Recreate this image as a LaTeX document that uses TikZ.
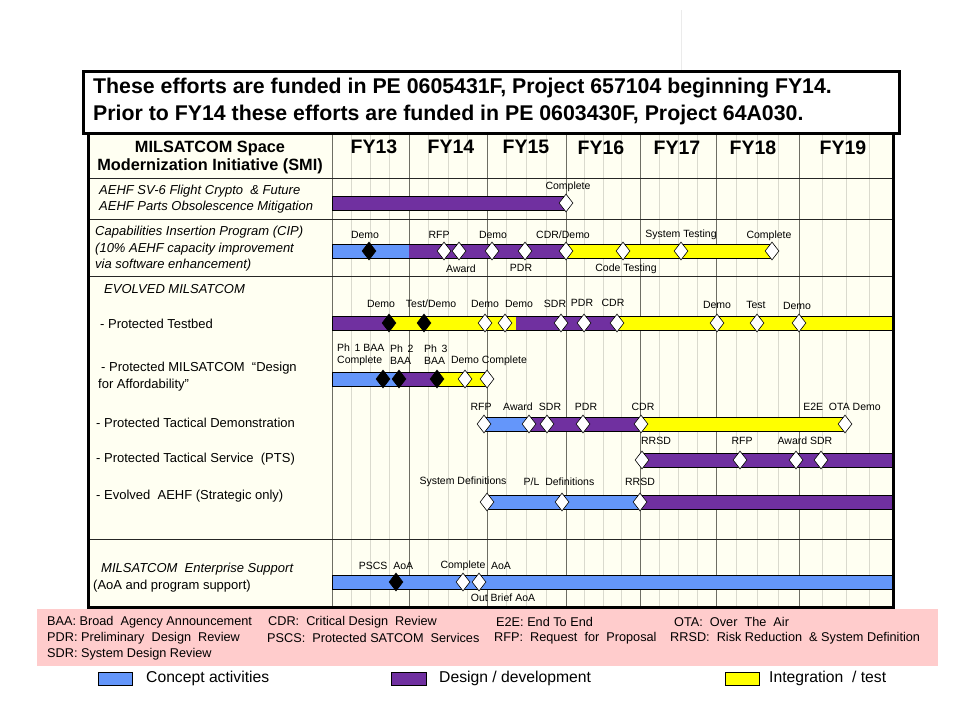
\documentclass[tikz,border=0pt]{standalone}
\usepackage{fontspec}
\setmainfont{Liberation Sans}
\usetikzlibrary{shapes.geometric}
\definecolor{cblue}{RGB}{100,150,250}
\definecolor{cpurple}{RGB}{112,48,160}
\definecolor{cyellow}{RGB}{255,255,0}
\definecolor{cream}{RGB}{255,255,242}
\definecolor{cpink}{RGB}{255,204,204}
\definecolor{gridq}{RGB}{218,218,206}
\definecolor{gridy}{RGB}{110,110,100}
\newcommand{\barseg}[4]{\fill[#4] (#2,#1-7) rectangle (#3,#1+7);}
\newcommand{\barbox}[3]{\draw[black, line width=0.8pt] (#2,#1-7) rectangle (#3,#1+7);}
\begin{document}
\begin{tikzpicture}[x=1pt,y=-1pt,
  msw/.style={diamond, draw=black, fill=white, line width=0.6pt, minimum width=14pt, minimum height=18pt, inner sep=0pt},
  msb/.style={msw, fill=black},
  lab/.style={font=\fontsize{10.5}{12}\selectfont, inner sep=0pt},
  rowlab/.style={font=\fontsize{13}{15}\selectfont, anchor=west, inner sep=0pt},
  rowlabit/.style={rowlab, font=\itshape\fontsize{13}{15}\selectfont},
  fylab/.style={font=\bfseries\fontsize{19.5}{22}\selectfont, inner sep=0pt},
  hdr/.style={anchor=west, font=\bfseries\fontsize{21.3}{24}\selectfont, inner sep=0pt},
  leg/.style={anchor=west, font=\fontsize{12.7}{14}\selectfont, inner sep=0pt},
  legbig/.style={anchor=west, font=\fontsize{15.7}{18}\selectfont, inner sep=0pt},
  swatch/.style={draw=black, line width=0.6pt}]
\useasboundingbox (0,0) rectangle (960,720);
\fill[white] (0,0) rectangle (960,720);
\draw[black!8] (681,10) -- (681,70);

% header box
\draw[line width=3pt, fill=white] (83,71) rectangle (899,133);
\node[hdr] (h1) at (93,88) {These efforts are funded in PE 0605431F, Project 657104 beginning FY14.};
\node[hdr] (h2) at (93,115) {Prior to FY14 these efforts are funded in PE 0603430F, Project 64A030.};

% table background and grid
\fill[cream] (88,135) rectangle (893,607);
\foreach \a/\b in {332/409,409/487,487/566,566/640,640/716,716/799,799/893}{
  \foreach \k in {1,2,3}
    \draw[gridq, line width=0.6pt] ({\a+\k*(\b-\a)/4},135) -- ({\a+\k*(\b-\a)/4},607);
}
\foreach \x in {332,409,487,566,640,716,799}
  \draw[gridy, line width=0.8pt] (\x,135) -- (\x,607);
\foreach \y in {178,219,276,539}
  \draw[black!85, line width=1pt] (88,\y) -- (893,\y);
\draw[line width=3pt] (88,134) -- (88,607) -- (893,607) -- (893,134);

% column headers
\node[font=\bfseries\fontsize{16.3}{18}\selectfont, align=center, inner sep=0pt] (smi) at (210,157) {MILSATCOM Space\\Modernization Initiative (SMI)};
\node[fylab] (fy13) at (374,147) {FY13};
\node[fylab] (fy14) at (451,147) {FY14};
\node[fylab] (fy15) at (526,147) {FY15};
\node[fylab] (fy16) at (601,148) {FY16};
\node[fylab] (fy17) at (677,148) {FY17};
\node[fylab] (fy18) at (753,148) {FY18};
\node[fylab] (fy19) at (843,148) {FY19};

% row labels
\node[rowlabit] (l1a) at (99,191) {AEHF SV-6 Flight Crypto \ \& Future};
\node[rowlabit] (l1b) at (99,207) {AEHF Parts Obsolescence Mitigation};
\node[rowlabit] (l2a) at (95,232) {Capabilities Insertion Program (CIP)};
\node[rowlabit] (l2b) at (95,249) {(10\% AEHF capacity improvement};
\node[rowlabit] (l2c) at (95,265) {via software enhancement)};
\node[rowlabit] (l3) at (104,289) {EVOLVED MILSATCOM};
\node[rowlab] (l4) at (100,324) {- Protected Testbed};
\node[rowlab] (l5a) at (101,368) {- Protected MILSATCOM \ “Design};
\node[rowlab] (l5b) at (98,385) {for Affordability”};
\node[rowlab] (l6) at (96,423) {- Protected Tactical Demonstration};
\node[rowlab] (l7) at (96,459) {- Protected Tactical Service \ (PTS)};
\node[rowlab] (l8) at (96,496) {- Evolved \ AEHF (Strategic only)};
\node[rowlabit] (l9a) at (101,569) {MILSATCOM \ Enterprise Support};
\node[rowlab] (l9b) at (93,586) {(AoA and program support)};

% ---- bars ----
% row 1
\barseg{203}{332}{566}{cpurple}
\barbox{203}{332}{566}
% row 2
\barseg{251}{332}{409}{cblue}
\barseg{251}{409}{566}{cpurple}
\barseg{251}{566}{771}{cyellow}
\barbox{251}{332}{771}
% row 3
\barseg{323}{332}{389}{cpurple}
\barseg{323}{389}{516}{cyellow}
\barseg{323}{516}{616}{cpurple}
\barseg{323}{616}{893}{cyellow}
\barbox{323}{332}{893}
% row 4
\barseg{379}{332}{398}{cblue}
\barseg{379}{398}{437}{cpurple}
\barseg{379}{437}{487}{cyellow}
\barbox{379}{332}{487}
% row 5
\barseg{424}{484}{530}{cblue}
\barseg{424}{530}{641}{cpurple}
\barseg{424}{641}{845}{cyellow}
\barbox{424}{484}{845}
% row 6
\barseg{460}{642}{893}{cpurple}
\barbox{460}{642}{893}
% row 7
\barseg{502}{487}{640}{cblue}
\barseg{502}{640}{893}{cpurple}
\barbox{502}{487}{893}
% row 8
\barseg{582}{332}{893}{cblue}
\barbox{582}{332}{893}
\draw[line width=3pt] (893,300) -- (893,607);

% ---- milestones ----
\node[msw] (r1w1) at (566,203) {};
\node[msb] (r2b1) at (369,251) {};
\foreach \x [count=\i] in {444,459,492,525,566,623,681,772}
  \node[msw] (r2w\i) at (\x,251) {};
\node[msb] (r3b1) at (389,323) {};
\node[msb] (r3b2) at (424,323) {};
\foreach \x [count=\i] in {485,505,561,584,617,717,757,799}
  \node[msw] (r3w\i) at (\x,323) {};
\node[msb] (r4b1) at (383,379) {};
\node[msb] (r4b2) at (399,379) {};
\node[msb] (r4b3) at (437,379) {};
\node[msw] (r4w1) at (465,379) {};
\node[msw] (r4w2) at (487,379) {};
\foreach \x [count=\i] in {484,529,547,583,641,845}
  \node[msw] (r5w\i) at (\x,424) {};
\foreach \x [count=\i] in {642,740,796,821}
  \node[msw] (r6w\i) at (\x,460) {};
\foreach \x [count=\i] in {487,562,640}
  \node[msw] (r7w\i) at (\x,502) {};
\node[msb] (r8b1) at (396,582) {};
\node[msw] (r8w1) at (463,582) {};
\node[msw] (r8w2) at (479,582) {};

% ---- milestone labels ----
\node[lab] (t1a) at (568,187) {Complete};
% row 2
\node[lab] (t2a) at (365,235) {Demo};
\node[lab] (t2b) at (439,235) {RFP};
\node[lab] (t2c) at (461,269) {Award};
\node[lab] (t2d) at (493,235) {Demo};
\node[lab] (t2e) at (521,268) {PDR};
\node[lab] (t2f) at (563,235) {CDR/Demo};
\node[lab] (t2g) at (626,269) {Code Testing};
\node[lab] (t2h) at (681,235) {System Testing};
\node[lab] (t2i) at (769,236) {Complete};
% row 3
\node[lab] (t3a) at (381,304) {Demo};
\node[lab] (t3b) at (431,304) {Test/Demo};
\node[lab] (t3c) at (485,304) {Demo};
\node[lab] (t3d) at (519,304) {Demo};
\node[lab] (t3e) at (555,304) {SDR};
\node[lab] (t3f) at (582,303) {PDR};
\node[lab] (t3g) at (613,303) {CDR};
\node[lab] (t3h) at (717,305) {Demo};
\node[lab] (t3i) at (756,305) {Test};
\node[lab] (t3j) at (797,306) {Demo};
% row 4
\node[lab, anchor=west, align=left] (t4a) at (337,355) {Ph \,1 BAA\\Complete};
\node[lab, anchor=west, align=left] (t4b) at (390,355) {Ph \,2\\BAA};
\node[lab, anchor=west, align=left] (t4c) at (424,355) {Ph \,3\\BAA};
\node[lab] (t4d) at (489,361) {Demo Complete};
% row 5
\node[lab] (t5a) at (481,407) {RFP};
\node[lab] (t5b) at (518,407) {Award};
\node[lab] (t5c) at (550,407) {SDR};
\node[lab] (t5d) at (586,407) {PDR};
\node[lab] (t5e) at (643,407) {CDR};
\node[lab] (t5f) at (842,407) {E2E \ OTA Demo};
% row 6
\node[lab] (t6a) at (656,441) {RRSD};
\node[lab] (t6b) at (742,441) {RFP};
\node[lab] (t6c) at (805,441) {Award SDR};
% row 7
\node[lab] (t7a) at (463,482) {System Definitions};
\node[lab] (t7b) at (559,482) {P/L \ Definitions};
\node[lab] (t7c) at (640,482) {RRSD};
% row 8
\node[lab] (t8a) at (386,566) {PSCS \ AoA};
\node[lab] (t8b) at (463,566) {Complete};
\node[lab] (t8c) at (501,566) {AoA};
\node[lab] (t8d) at (503,598) {Out Brief AoA};

% ---- abbreviations ----
\fill[cpink] (37,609) rectangle (938,666);
\node[leg] (a1) at (47,622) {BAA: Broad \ Agency Announcement};
\node[leg] (a2) at (268,622) {CDR: \ Critical Design \ Review};
\node[leg] (a3) at (496,622) {E2E: End To End};
\node[leg] (a4) at (674,622) {OTA: \ Over \ The \ Air};
\node[leg] (a5) at (47,638) {PDR: Preliminary \ Design \ Review};
\node[leg] (a6) at (267,638) {PSCS: \ Protected SATCOM \ Services};
\node[leg] (a7) at (494,638) {RFP: \ Request \ for \ Proposal};
\node[leg] (a8) at (670,638) {RRSD: \ Risk Reduction \ \& System Definition};
\node[leg] (a9) at (47,654) {SDR: System Design Review};

% ---- colour key ----
\draw[swatch, fill=cblue] (98,672) rectangle (132,685);
\node[legbig] (k1) at (146,678) {Concept activities};
\draw[swatch, fill=cpurple] (391,672) rectangle (426,685);
\node[legbig] (k2) at (439,678) {Design / development};
\draw[swatch, fill=cyellow] (725,672) rectangle (759,685);
\node[legbig] (k3) at (769,678) {Integration \ / test};
\end{tikzpicture}
\end{document}
